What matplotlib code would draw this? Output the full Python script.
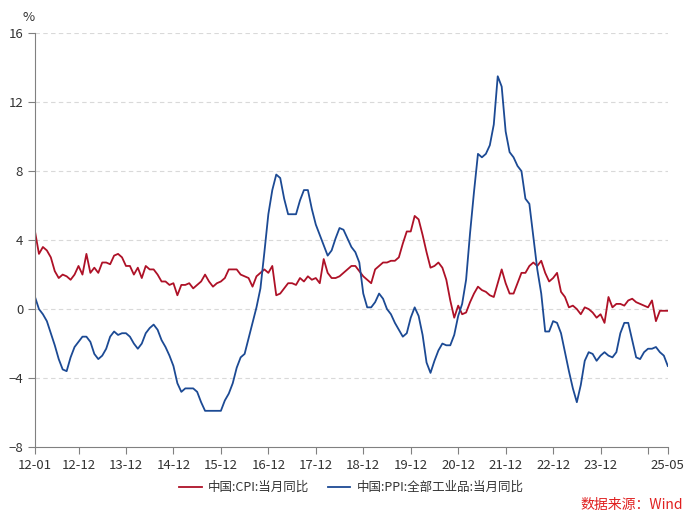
import matplotlib
matplotlib.use("Agg")
import matplotlib.pyplot as plt
import numpy as np

plt.rcParams['font.family'] = ['Noto Sans CJK SC', 'DejaVu Sans']

# monthly data, 2012-01 .. 2025-05
cpi = [4.5, 3.2, 3.6, 3.4, 3.0, 2.2, 1.8, 2.0, 1.9, 1.7, 2.0, 2.5,
       2.0, 3.2, 2.1, 2.4, 2.1, 2.7, 2.7, 2.6, 3.1, 3.2, 3.0, 2.5,
       2.5, 2.0, 2.4, 1.8, 2.5, 2.3, 2.3, 2.0, 1.6, 1.6, 1.4, 1.5,
       0.8, 1.4, 1.4, 1.5, 1.2, 1.4, 1.6, 2.0, 1.6, 1.3, 1.5, 1.6,
       1.8, 2.3, 2.3, 2.3, 2.0, 1.9, 1.8, 1.3, 1.9, 2.1, 2.3, 2.1,
       2.5, 0.8, 0.9, 1.2, 1.5, 1.5, 1.4, 1.8, 1.6, 1.9, 1.7, 1.8,
       1.5, 2.9, 2.1, 1.8, 1.8, 1.9, 2.1, 2.3, 2.5, 2.5, 2.2, 1.9,
       1.7, 1.5, 2.3, 2.5, 2.7, 2.7, 2.8, 2.8, 3.0, 3.8, 4.5, 4.5,
       5.4, 5.2, 4.3, 3.3, 2.4, 2.5, 2.7, 2.4, 1.7, 0.5, -0.5, 0.2,
       -0.3, -0.2, 0.4, 0.9, 1.3, 1.1, 1.0, 0.8, 0.7, 1.5, 2.3, 1.5,
       0.9, 0.9, 1.5, 2.1, 2.1, 2.5, 2.7, 2.5, 2.8, 2.1, 1.6, 1.8,
       2.1, 1.0, 0.7, 0.1, 0.2, 0.0, -0.3, 0.1, 0.0, -0.2, -0.5, -0.3,
       -0.8, 0.7, 0.1, 0.3, 0.3, 0.2, 0.5, 0.6, 0.4, 0.3, 0.2, 0.1,
       0.5, -0.7, -0.1, -0.1, -0.1]

ppi = [0.7, 0.0, -0.3, -0.7, -1.4, -2.1, -2.9, -3.5, -3.6, -2.8, -2.2, -1.9,
       -1.6, -1.6, -1.9, -2.6, -2.9, -2.7, -2.3, -1.6, -1.3, -1.5, -1.4, -1.4,
       -1.6, -2.0, -2.3, -2.0, -1.4, -1.1, -0.9, -1.2, -1.8, -2.2, -2.7, -3.3,
       -4.3, -4.8, -4.6, -4.6, -4.6, -4.8, -5.4, -5.9, -5.9, -5.9, -5.9, -5.9,
       -5.3, -4.9, -4.3, -3.4, -2.8, -2.6, -1.7, -0.8, 0.1, 1.2, 3.3, 5.5,
       6.9, 7.8, 7.6, 6.4, 5.5, 5.5, 5.5, 6.3, 6.9, 6.9, 5.8, 4.9,
       4.3, 3.7, 3.1, 3.4, 4.1, 4.7, 4.6, 4.1, 3.6, 3.3, 2.7, 0.9,
       0.1, 0.1, 0.4, 0.9, 0.6, 0.0, -0.3, -0.8, -1.2, -1.6, -1.4, -0.5,
       0.1, -0.4, -1.5, -3.1, -3.7, -3.0, -2.4, -2.0, -2.1, -2.1, -1.5, -0.4,
       0.3, 1.7, 4.4, 6.8, 9.0, 8.8, 9.0, 9.5, 10.7, 13.5, 12.9, 10.3,
       9.1, 8.8, 8.3, 8.0, 6.4, 6.1, 4.2, 2.3, 0.9, -1.3, -1.3, -0.7,
       -0.8, -1.4, -2.5, -3.6, -4.6, -5.4, -4.4, -3.0, -2.5, -2.6, -3.0, -2.7,
       -2.5, -2.7, -2.8, -2.5, -1.4, -0.8, -0.8, -1.8, -2.8, -2.9, -2.5, -2.3,
       -2.3, -2.2, -2.5, -2.7, -3.3]

months = np.arange(len(cpi))
tick_pos = [0] + [11 + 12 * i for i in range(13)] + [len(cpi) - 1]
tick_lab = ['12-01'] + ['%02d-12' % (12 + i) for i in range(12)] + [''] + ['25-05']

fig = plt.figure(figsize=(7, 5.18), dpi=100)
ax = fig.add_axes([0.05, 0.137, 0.904, 0.799])

ax.plot(months, cpi, color='#AE1127', lw=1.3, label='中国:CPI:当月同比')
ax.plot(months, ppi, color='#1C4A94', lw=1.3, label='中国:PPI:全部工业品:当月同比')

ax.set_xlim(0, len(cpi) - 1)
ax.set_ylim(-8, 16)
ax.set_yticks([-8, -4, 0, 4, 8, 12, 16])
ax.set_xticks(tick_pos)
ax.set_xticklabels(tick_lab)
for y in [-4, 0, 4, 8, 12, 16]:
    ax.axhline(y, color='#d9d9d9', lw=0.8, ls=(0, (4, 3)), zorder=0)

for s in ['top', 'right']:
    ax.spines[s].set_visible(False)
for s in ['left', 'bottom']:
    ax.spines[s].set_color('#808080')
ax.tick_params(axis='both', colors='#808080', labelcolor='#333333', labelsize=9.5, length=5, direction='out')

ax.text(-0.01, 1.03, '%', transform=ax.transAxes, fontsize=9.5, color='#333333', ha='center')

ax.legend(loc='upper center', bbox_to_anchor=(0.5, -0.055), ncol=2, frameon=False,
          fontsize=9, handlelength=1.8, columnspacing=1.5, handletextpad=0.5, labelcolor='#333333')
fig.text(0.975, 0.018, '数据来源：Wind', color='#E02020', fontsize=10, ha='right')

fig.savefig('out.png', dpi=100)
